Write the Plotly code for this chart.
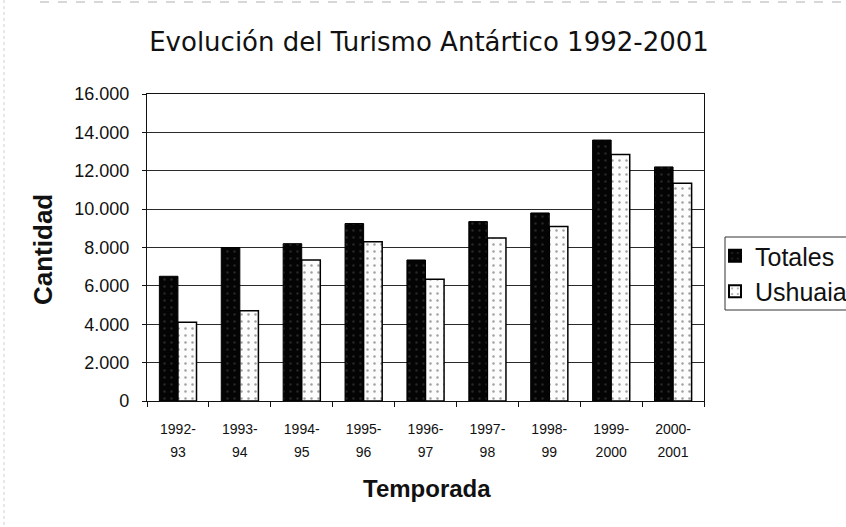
import plotly.graph_objects as go

# Temporadas (season labels, two lines each)
temporadas = ["1992-<br>93", "1993-<br>94", "1994-<br>95", "1995-<br>96", "1996-<br>97",
              "1997-<br>98", "1998-<br>99", "1999-<br>2000", "2000-<br>2001"]
totales = [6500, 8000, 8200, 9250, 7350, 9350, 9800, 13600, 12200]
ushuaia = [4100, 4700, 7350, 8300, 6350, 8500, 9100, 12850, 11350]
y_ticks = [0, 2000, 4000, 6000, 8000, 10000, 12000, 14000, 16000]
y_tick_text = ["0", "2.000", "4.000", "6.000", "8.000", "10.000", "12.000", "14.000", "16.000"]

FONT = "Liberation Sans, Arial, sans-serif"
WIDE = "DejaVu Sans, Verdana, sans-serif"
INK = "#111111"

# plot area in pixels
L, R, T, B = 147, 704, 94, 401
W, H = 846, 527
PW, PH = R - L, B - T


def px_x(x):
    return (x - L) / PW


def px_y(y):
    return (B - y) / PH


fig = go.Figure()
fig.add_trace(go.Bar(
    name="Totales", x=temporadas, y=totales,
    marker=dict(color="#050505", line=dict(color="#000000", width=1),
                pattern=dict(shape=".", fgcolor="#262626", bgcolor="#040404",
                             size=7, solidity=0.1, fillmode="replace")),
))
fig.add_trace(go.Bar(
    name="Ushuaia", x=temporadas, y=ushuaia,
    marker=dict(color="#ffffff", line=dict(color="#000000", width=1.5),
                pattern=dict(shape=".", fgcolor="#a0a0a0", bgcolor="#fcfcfc",
                             size=7, solidity=0.1, fillmode="replace")),
))

# season tick labels: small glyphs with wide line spacing
tick_text = ["<span style='font-size:14px'>%s</span>" % t.replace("<br>", "</span><br><span style='font-size:14px'>")
             for t in temporadas]

fig.update_layout(
    width=W, height=H,
    margin=dict(l=L, r=W - R, t=T, b=H - B, autoexpand=False),
    paper_bgcolor="white", plot_bgcolor="white",
    barmode="group", bargap=0.4, bargroupgap=0.0,
    font=dict(family=FONT, color=INK),
    title=dict(text="Evolución del Turismo Antártico 1992-2001",
               font=dict(size=26, family=WIDE, color=INK),
               x=429 / W, xref="container", xanchor="center",
               y=1 - 42 / H, yref="container", yanchor="middle"),
    legend=dict(x=px_x(715), y=px_y(233), xanchor="left", yanchor="top",
                borderwidth=0, bgcolor="rgba(0,0,0,0)",
                font=dict(size=25, family=FONT, color=INK),
                itemsizing="constant", tracegroupgap=0),
    showlegend=True,
)

fig.update_xaxes(
    showline=True, linecolor=INK, linewidth=1.2, mirror=True,
    ticks="outside", tickson="boundaries", ticklen=5, tickcolor=INK,
    tickmode="array", tickvals=temporadas, ticktext=tick_text,
    tickfont=dict(size=17.7, family=FONT, color=INK),
    ticklabelstandoff=11,
    showgrid=False,
)
fig.update_yaxes(
    range=[0, 16000], tickvals=y_ticks, ticktext=y_tick_text,
    showline=True, linecolor=INK, linewidth=1.2, mirror=True,
    ticks="outside", ticklen=4, tickcolor=INK,
    tickfont=dict(size=18, family=FONT, color=INK),
    ticklabelstandoff=9,
    showgrid=True, gridcolor="#2a2a2a", gridwidth=1,
    zeroline=False,
)

# legend frame (open on the right, runs off the page)
fig.add_shape(type="rect", xref="paper", yref="paper",
              x0=px_x(725), x1=px_x(852), y0=px_y(310), y1=px_y(237),
              line=dict(color="#333333", width=1), fillcolor="rgba(0,0,0,0)")

# faint page edge lines
fig.add_shape(type="line", xref="paper", yref="paper",
              x0=px_x(40), x1=px_x(846), y0=px_y(2), y1=px_y(2),
              line=dict(color="#b0b0b0", width=1, dash="dash"))
fig.add_shape(type="line", xref="paper", yref="paper",
              x0=px_x(4), x1=px_x(4), y0=px_y(0), y1=px_y(527),
              line=dict(color="#d0d0d0", width=1, dash="dot"))

# Axis titles
fig.add_annotation(text="<b>Cantidad</b>", xref="paper", yref="paper",
                   x=px_x(43), y=px_y(250), showarrow=False,
                   textangle=-90, font=dict(size=26, family=FONT, color=INK),
                   xanchor="center", yanchor="middle")
fig.add_annotation(text="<b>Temporada</b>", xref="paper", yref="paper",
                   x=px_x(427), y=px_y(488), showarrow=False,
                   font=dict(size=24, family=FONT, color=INK),
                   xanchor="center", yanchor="middle")

fig.write_html("out.html")
